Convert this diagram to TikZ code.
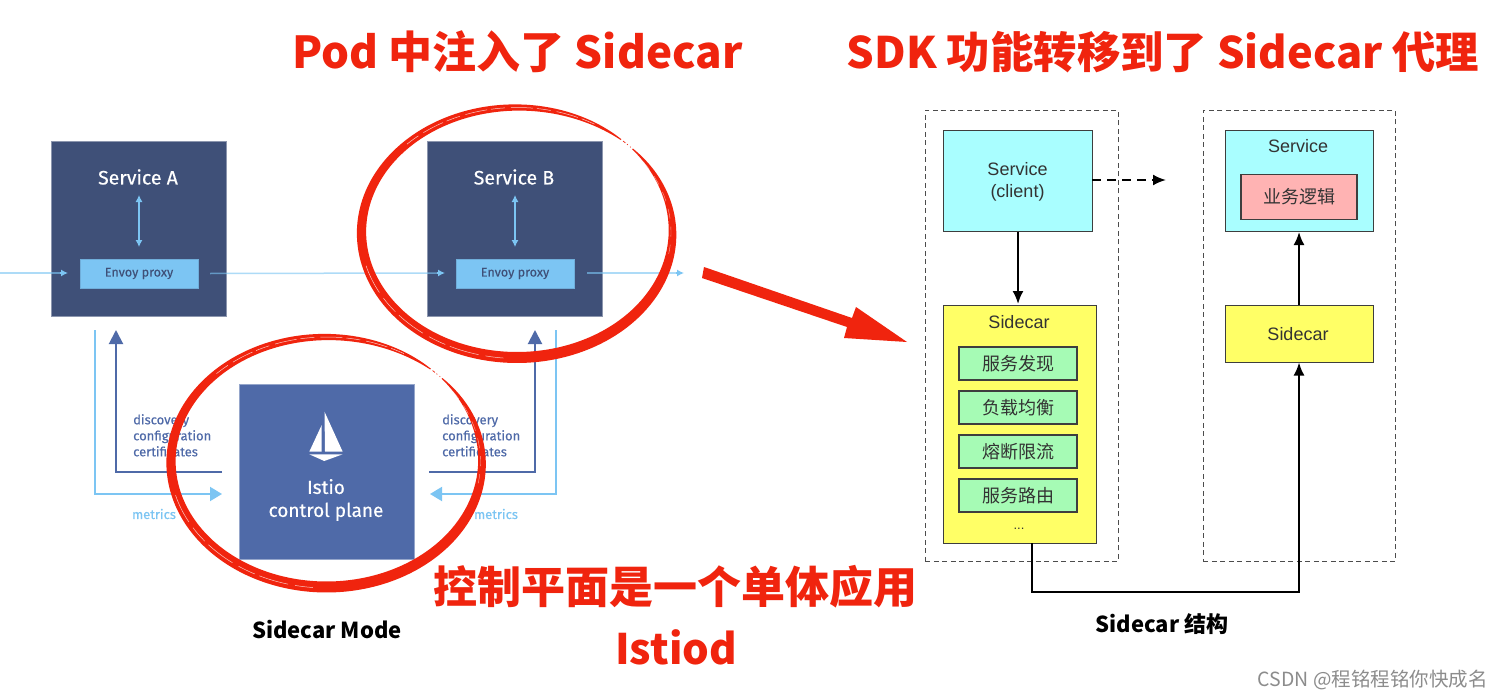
\documentclass[tikz,border=0pt]{standalone}
\usepackage{fontspec}
\setmainfont{Liberation Sans}
\newfontfamily\din{Fira Sans}[FakeBold=.35]
\newfontfamily\cjk{Noto Sans CJK SC}
\usetikzlibrary{arrows.meta}
\definecolor{redc}{HTML}{F0240E}
\definecolor{navy}{HTML}{3F5078}
\definecolor{ctrl}{HTML}{4F6AA8}
\definecolor{lb}{HTML}{7CC5F3}
\definecolor{cyanb}{HTML}{A9FEFF}
\definecolor{yellowb}{HTML}{FFFF66}
\definecolor{greenb}{HTML}{A6FBB5}
\definecolor{pinkb}{HTML}{FFB3B3}
\definecolor{edgec}{HTML}{3E3E3E}
\newcommand{\fs}[1]{\fontsize{#1}{#1}\selectfont}
\newcommand{\brush}[2]{%
  \begin{scope}[shift={(#1,#2)}]
    \fill[redc] plot[domain=-42:312,samples=140,smooth] ({(155.5+0.5*bw(\x))*cos(\x)},{(125+0.5*bw(\x))*sin(\x)})
      -- plot[domain=312:-42,samples=140,smooth] ({(155.5-0.5*bw(\x))*cos(\x)},{(125-0.5*bw(\x))*sin(\x)}) -- cycle;
    \draw[redc,line width=.7pt,dash pattern=on 3pt off 2pt on 1pt off 3pt] plot[domain=313:317,samples=6,smooth] ({155.5*cos(\x)},{125*sin(\x)});
    \draw[white,line width=.5pt,opacity=.75,dash pattern=on 18pt off 7pt on 30pt off 5pt] plot[domain=95:165,samples=40,smooth] ({156.5*cos(\x)},{126*sin(\x)});
    \draw[white,line width=.5pt,opacity=.75,dash pattern=on 14pt off 6pt on 22pt off 4pt] plot[domain=225:300,samples=40,smooth] ({155.5*cos(\x)},{125*sin(\x)});
    \draw[white,line width=.4pt,opacity=.6,dash pattern=on 10pt off 8pt] plot[domain=-35:10,samples=30,smooth] ({154*cos(\x)},{123.5*sin(\x)});
  \end{scope}}
\tikzset{
  x=1pt,y=-1pt,
  declare function={bw(\t)=1+10*(1-(abs(\t-135)/177)^6)*(.825+.175*sin(\t));},
  svc/.style={draw=navy!60!white,line width=.6pt,fill=navy,text=white,minimum width=175pt,minimum height=175pt,inner sep=0,anchor=north west},
  envoy/.style={fill=lb,draw=lb!80!navy,line width=.4pt,text=navy,font=\din\fs{12.6},minimum width=118pt,minimum height=29pt,inner sep=0},
  svclabel/.style={text=white,font=\din\fs{19.5},inner sep=0},
  lightline/.style={draw=lb,line width=1.5pt,draw opacity=.62},
  tipl/.style={draw=lb,line width=1.3pt,-{Latex[length=7pt,width=7pt]}},
  bigl/.style={draw=lb,line width=1.9pt},
  bigd/.style={draw=ctrl,line width=2pt},
  greenbox/.style={draw=edgec,line width=1.1pt,fill=greenb,minimum width=118pt,minimum height=33pt,inner sep=0,font=\cjk\fs{18},text=black!80},
  ybox/.style={draw=edgec,line width=1.1pt,fill=yellowb,inner sep=0},
  cbox/.style={draw=edgec,line width=1.1pt,fill=cyanb,inner sep=0},
  dashbox/.style={draw=black!70,line width=.9pt,dash pattern=on 5pt off 3.5pt,minimum width=193pt,minimum height=451pt,inner sep=0,anchor=north west},
  lab/.style={inner sep=0,text=black!80,font=\fs{18}},
  flow/.style={draw=black,line width=2pt,-{Latex[length=13pt,width=11pt]}},
  dsc/.style={inner sep=0,anchor=north west,align=left,text=ctrl,font=\din\fs{13}},
  mtr/.style={inner sep=0,text=lb,font=\din\fs{13}},
  title/.style={inner sep=0,text=redc,font=\cjk\bfseries\fs{44}},
  captext/.style={inner sep=0,text=black,font=\cjk\bfseries\fs{22}},
}
\begin{document}
\begin{tikzpicture}
\useasboundingbox (0,0) rectangle (1500,698);
\fill[white] (0,0) rectangle (1500,698);

% left diagram
\node[svc] (svcA) at (51,141) {};
\node[svc] (svcB) at (427,141) {};
\node[svc,fill=ctrl,draw=ctrl!60!white] (cp) at (239,384) {};
\node[envoy] (envA) at (139,273.5) {Envoy proxy};
\node[envoy] (envB) at (515,273.5) {Envoy proxy};
\node[svclabel] (labA) at (138,177) {Service A};
\node[svclabel] (labB) at (514,177) {Service B};
\node[inner sep=0,text=white,align=center,font=\din\fs{19}] (cplab) at (326,500) {Istio\\[4pt]control plane};

\coordinate (inA) at (0,273);
\coordinate (tipA) at (68,273);
\coordinate (tipA0) at (60,273);
\coordinate (tipB) at (445,273);
\coordinate (tipB0) at (437,273);
\coordinate (outB0) at (587,273);
\coordinate (outB) at (684,273);
\coordinate (outB1) at (676,273);
\draw[lightline] (inA) -- (tipA0);
\draw[tipl] (tipA0) -- (tipA);
\draw[lightline] (envA.east) ++(12,0) -- (tipB0);
\draw[tipl] (tipB0) -- (tipB);
\draw[lightline] (outB0) -- (outB1);
\draw[tipl] (outB1) -- (outB);
\draw[tipl,{Latex[length=7pt,width=7pt]}-{Latex[length=7pt,width=7pt]},line width=1.1pt] (139,195) -- (139,247);
\draw[tipl,{Latex[length=7pt,width=7pt]}-{Latex[length=7pt,width=7pt]},line width=1.1pt] (515,195) -- (515,247);

\coordinate (dA) at (116,330);
\coordinate (lA) at (95,330);
\coordinate (dB) at (535,330);
\coordinate (lB) at (556,330);
\draw[bigd,-{Triangle[length=14pt,width=14pt]}] (222,472) -- (116,472) -- (dA);
\draw[bigd,-{Triangle[length=14pt,width=14pt]}] (429,472) -- (535,472) -- (dB);
\draw[bigl,-{Triangle[length=12pt,width=14pt]}] (lA) -- (95,494) -- (222,494);
\draw[bigl,-{Triangle[length=12pt,width=14pt]}] (lB) -- (556,494) -- (430,494);

\node[dsc] (d1) at (133,414) {discovery\\[3pt]configuration\\[3pt]certificates};
\node[dsc] (d2) at (442,414) {discovery\\[3pt]configuration\\[3pt]certificates};
\node[mtr] (m1) at (154,514) {metrics};
\node[mtr] (m2) at (496,514) {metrics};

% sail icon
\fill[white] (324.5,411.7) -- (342.7,451.7) -- (325,451.7) -- cycle;
\fill[white] (321.7,425) -- (321.7,451.7) -- (309.3,451.7) -- cycle;
\fill[white] (309.3,454.3) -- (342.7,454.3) -- (324.3,461) -- cycle;

\node[captext] (capL) at (327,630) {Sidecar Mode};

% right diagram
\node[dashbox] (dash1) at (925,110) {};
\node[dashbox,minimum width=192pt] (dash2) at (1203,110) {};
\node[cbox,minimum width=149pt,minimum height=101pt,anchor=north west] (client) at (943,130) {};
\node[lab,align=center] (clientlab) at (1017.5,181.5) {Service\\[4pt](client)};
\node[ybox,minimum width=153pt,minimum height=238pt,anchor=north west] (side1) at (943,305) {};
\node[lab] (side1lab) at (1019,322) {Sidecar};
\node[greenbox] (g1) at (1018,363.5) {服务发现};
\node[greenbox] (g2) at (1018,407.5) {负载均衡};
\node[greenbox] (g3) at (1018,451.5) {熔断限流};
\node[greenbox] (g4) at (1018,495.5) {服务路由};
\node[inner sep=0,text=black!80,font=\fs{13}] (dots) at (1019,529) {...};
\node[cbox,minimum width=148pt,minimum height=101pt,anchor=north west] (srv) at (1225,130) {};
\node[lab] (srvlab) at (1298,146) {Service};
\node[draw=edgec,line width=1.1pt,fill=pinkb,minimum width=116pt,minimum height=45pt,inner sep=0,font=\cjk\fs{18},text=black!80] (logic) at (1299,197) {业务逻辑};
\node[ybox,minimum width=148pt,minimum height=57pt,anchor=north west] (side2) at (1225,305) {};
\node[lab] (side2lab) at (1298,334) {Sidecar};

\coordinate (dashend) at (1166,180);
\coordinate (elbowS) at (1032,543);
\coordinate (elbowT) at (1299,362.5);
\draw[flow] (client.south -| side1lab) ++(-1,0) -- (1018,304);
\draw[flow,dash pattern=on 9pt off 6pt] (1092,180) -- (dashend);
\draw[flow] (1299,305) -- (1299,232);
\draw[flow] (elbowS) -- (1032,592) -- (1299,592) -- (elbowT);
\node[captext] (capR) at (1162,624) {Sidecar 结构};

% red annotations
\brush{517}{232.5}
\brush{326.5}{462}
\node[title] (t1) at (517.5,52) {Pod 中注入了 Sidecar};
\node[title,font=\cjk\bfseries\fs{43.4}] (t2) at (1163,52) {SDK 功能转移到了 Sidecar 代理};
\node[title] (t3) at (675,587) {控制平面是一个单体应用};
\node[title,font=\cjk\bfseries\fs{42}] (t4) at (676,647) {Istiod};
\fill[redc] (704,267) -- (852,318) -- (856,307) -- (907,342) -- (844,338) -- (847,327) -- (702,278) -- cycle;

\node[anchor=east,inner sep=0,text=black!45,font=\cjk\fs{19.5}] (wm) at (1488,680) {CSDN @程铭程铭你快成名};
\end{tikzpicture}
\end{document}
